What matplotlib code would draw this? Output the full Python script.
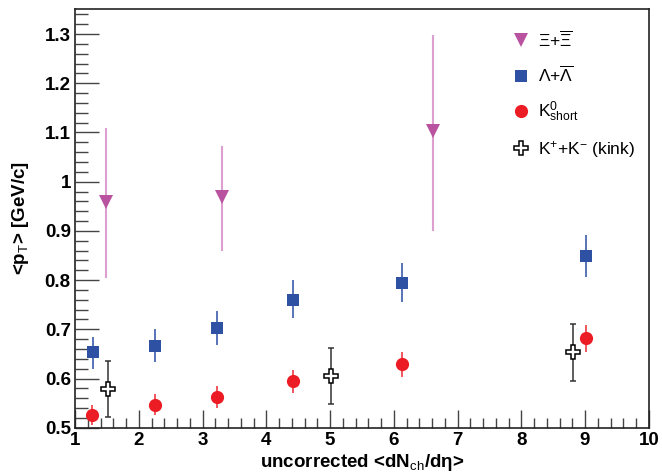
import matplotlib
matplotlib.use("Agg")
import matplotlib.pyplot as plt
from matplotlib.ticker import MultipleLocator, FuncFormatter
from matplotlib.lines import Line2D

plt.rcParams['font.family'] = ['Liberation Sans', 'DejaVu Sans']
plt.rcParams['mathtext.fontset'] = 'custom'
plt.rcParams['mathtext.rm'] = 'Liberation Sans'
plt.rcParams['mathtext.it'] = 'Liberation Sans:italic'
plt.rcParams['mathtext.bf'] = 'Liberation Sans:bold'

# Xi + anti-Xi
xi_x = [1.49, 3.30, 6.61]
xi_y = [0.959, 0.969, 1.102]
xi_lo = [0.805, 0.859, 0.900]
xi_hi = [1.110, 1.073, 1.298]

# Lambda + anti-Lambda
la_x = [1.28, 2.25, 3.22, 4.42, 6.13, 9.02]
la_y = [0.653, 0.667, 0.703, 0.760, 0.795, 0.849]
la_lo = [0.620, 0.633, 0.668, 0.723, 0.756, 0.806]
la_hi = [0.684, 0.700, 0.738, 0.800, 0.835, 0.892]

# K0 short
k0_x = [1.27, 2.25, 3.22, 4.42, 6.13, 9.02]
k0_y = [0.526, 0.547, 0.562, 0.594, 0.629, 0.682]
k0_lo = [0.506, 0.525, 0.541, 0.571, 0.604, 0.654]
k0_hi = [0.547, 0.568, 0.585, 0.618, 0.653, 0.709]

# K+ + K- (kink)
kk_x = [1.51, 5.01, 8.81]
kk_y = [0.579, 0.606, 0.653]
kk_lo = [0.522, 0.549, 0.595]
kk_hi = [0.635, 0.662, 0.711]

labels = [r'$\Xi$+$\overline{\Xi}$', r'$\Lambda$+$\overline{\Lambda}$',
          r'K$^{0}_{\rm short}$', r'K$^{+}$+K$^{-}$ (kink)']

fig = plt.figure(figsize=(6.62, 4.72), dpi=100)
ax = fig.add_axes([0.1133, 0.0938, 0.8667, 0.8862])

def err(y, lo, hi):
    return [[a - b for a, b in zip(y, lo)], [b - a for a, b in zip(y, hi)]]

xi_c, la_c, k0_c = '#b9529f', '#2f51a3', '#ec1c24'
ax.errorbar(xi_x, xi_y, yerr=err(xi_y, xi_lo, xi_hi), fmt='v', ms=10,
            color=xi_c, ecolor='#dc9fd0', elinewidth=1.5, capsize=2, mew=0)
ax.errorbar(la_x, la_y, yerr=err(la_y, la_lo, la_hi), fmt='s', ms=8.5,
            color=la_c, ecolor='#4a68b2', elinewidth=1.3, capsize=2, mew=0)
ax.errorbar(k0_x, k0_y, yerr=err(k0_y, k0_lo, k0_hi), fmt='o', ms=9.5,
            color=k0_c, ecolor='#ee4a50', elinewidth=1.3, capsize=2, mew=0)
ax.errorbar(kk_x, kk_y, yerr=err(kk_y, kk_lo, kk_hi), fmt='P', ms=10,
            mfc='white', mec='black', ecolor='#333333', elinewidth=1.1,
            capsize=2, mew=1.1, zorder=3)

ax.set_xlim(1, 10)
ax.set_ylim(0.5, 1.35)
ax.xaxis.set_major_locator(MultipleLocator(1))
ax.xaxis.set_minor_locator(MultipleLocator(0.2))
ax.yaxis.set_major_locator(MultipleLocator(0.1))
ax.yaxis.set_minor_locator(MultipleLocator(0.02))
ax.yaxis.set_major_formatter(FuncFormatter(lambda v, p: '%g' % round(v, 2)))
ax.tick_params(which='both', direction='in', top=False, right=False, color='#444444')
ax.tick_params(axis='y', which='major', length=17, width=1)
ax.tick_params(axis='y', which='minor', length=9, width=1)
ax.tick_params(axis='x', which='major', length=13, width=1)
ax.tick_params(axis='x', which='minor', length=7, width=1)
ax.tick_params(axis='both', which='major', labelsize=13.5, pad=3)
for lab in ax.get_xticklabels() + ax.get_yticklabels():
    lab.set_fontweight('bold')
for s in ax.spines.values():
    s.set_linewidth(1.2)
    s.set_color('#222222')

ax.set_xlabel('uncorrected <dN$_{\\rm ch}$/dη>', fontsize=13.5, fontweight='bold', labelpad=2)
ax.set_ylabel(r'<p$_{\rm T}$> [GeV/c]', fontsize=13.5, fontweight='bold', labelpad=10)

handles = [
    Line2D([], [], ls='none', marker='v', ms=10, color=xi_c, mew=0),
    Line2D([], [], ls='none', marker='s', ms=8.5, color=la_c, mew=0),
    Line2D([], [], ls='none', marker='o', ms=9.5, color=k0_c, mew=0),
    Line2D([], [], ls='none', marker='P', ms=10, mfc='white', mec='black', mew=1.1),
]
leg = ax.legend(handles, labels, loc='upper left', bbox_to_anchor=(0.735, 0.99),
                frameon=False, fontsize=12.5, handlelength=1.0, handletextpad=0.5,
                labelspacing=0.85)

fig.savefig('out.png', dpi=100)
